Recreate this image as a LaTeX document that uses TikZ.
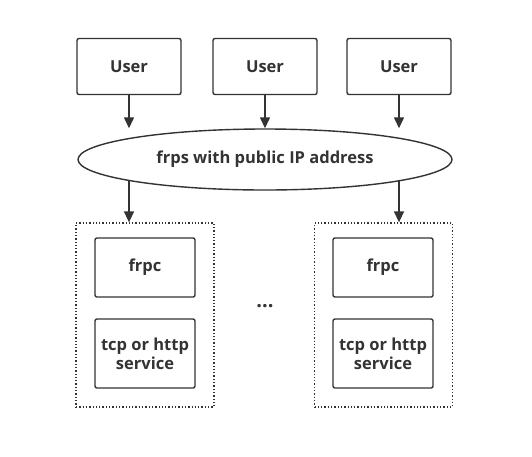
\documentclass[tikz,border=0pt]{standalone}
\usepackage{fontspec}
\setmainfont{Open Sans}
\usetikzlibrary{arrows.meta,shapes.geometric,backgrounds}
\definecolor{ink}{HTML}{333333}

\begin{document}
\begin{tikzpicture}[x=1pt,y=-1pt,->,>={Triangle[length=11pt,width=10pt]},draw=ink,
  font=\fontsize{16.5}{19}\selectfont\bfseries,
  user node/.style={rectangle,rounded corners=2pt,draw=ink,text=ink,line width=1.4pt,
    minimum width=104pt,minimum height=56pt},
  inner node/.style={rectangle,rounded corners=2pt,draw=ink,text=ink,line width=1.4pt,
    minimum width=100pt,align=center},
  host node/.style={rectangle,draw=ink,dotted,line width=1.3pt,
    minimum width=138pt,minimum height=184pt}]

  \useasboundingbox (0,0) rectangle (532,456);

  \node[user node]  (u1) at (129, 66.5) {User};
  \node[user node]  (u2) at (265, 66.5) {User};
  \node[user node]  (u3) at (399, 66.5) {User};
  \node[ellipse,draw=ink,fill=white,text=ink,line width=1.4pt,
    minimum width=374pt,minimum height=61pt] (frps) at (265,159.5) {frps with public IP address};

  \node[host node]  (h1) at (145, 315) {};
  \node[host node]  (h2) at (383.5, 315) {};
  \node[inner node,minimum height=59pt] (c1) at (145, 267.5) {frpc};
  \node[inner node,minimum height=59pt] (c2) at (383, 267.5) {frpc};
  \node[inner node,minimum height=69pt] (s1) at (145, 353.5) {tcp or http\\service};
  \node[inner node,minimum height=69pt] (s2) at (383, 353.5) {tcp or http\\service};
  \node[text=ink,font=\fontsize{20}{20}\selectfont\bfseries] (dots) at (265, 306) {...};

  \path[draw=ink,line width=1.4pt]
    (u1) edge (u1 |- frps.north)
    (u2) edge (u2 |- frps.north)
    (u3) edge (u3 |- frps.north);
  \begin{scope}[on background layer]
    \path[draw=ink,line width=1.4pt]
      (u1 |- frps) edge (u1 |- h1.north)
      (u3 |- frps) edge (u3 |- h2.north);
  \end{scope}

\end{tikzpicture}
\end{document}
